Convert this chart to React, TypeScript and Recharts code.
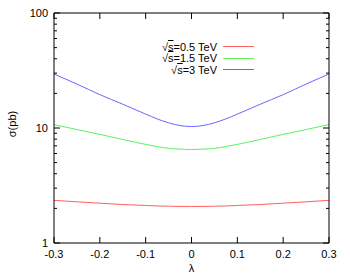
import React from "react";
import { LineChart, Line, XAxis, YAxis } from "recharts";

// lambda 값 (x축)
const lambdas = [-0.3, -0.25, -0.2, -0.15, -0.1, -0.075, -0.05, -0.025, 0, 0.025, 0.05, 0.075, 0.1, 0.15, 0.2, 0.25, 0.3];

// 단면적 sigma(pb), 그림에서 읽은 값
const sigma05 = [2.35, 2.28, 2.22, 2.16, 2.12, 2.1, 2.09, 2.08, 2.08, 2.08, 2.09, 2.1, 2.12, 2.16, 2.22, 2.28, 2.35];
const sigma15 = [10.7, 9.7, 8.8, 7.95, 7.2, 6.9, 6.65, 6.55, 6.5, 6.55, 6.65, 6.9, 7.2, 7.95, 8.8, 9.7, 10.7];
const sigma3 = [29.5, 24.1, 19.5, 16.1, 13.2, 12.0, 11.1, 10.5, 10.3, 10.5, 11.1, 12.0, 13.2, 16.1, 19.5, 24.1, 29.5];

const xTicks = [-0.3, -0.2, -0.1, 0, 0.1, 0.2, 0.3];
const yMajor = [1, 10, 100];
const yTicks = [1, 2, 3, 4, 5, 6, 7, 8, 9, 10, 20, 30, 40, 50, 60, 70, 80, 90, 100];

const seriesNames = ["0.5", "1.5", "3"];
const seriesColors = ["#ff6060", "#60f060", "#6868ff"];

const data = lambdas.map((l, i) => ({
  lambda: l,
  s05: sigma05[i],
  s15: sigma15[i],
  s3: sigma3[i],
}));

const FONT = "'Liberation Sans', Arial, sans-serif";
const GAP = 6;

const fmtX = (v: number) => (Math.abs(v) < 1e-9 ? "0" : String(v));

// 왼쪽 y축 눈금 (안쪽으로)
const LeftTick = (props: any) => {
  const { x, y, payload } = props;
  const ax = x + GAP;
  const major = yMajor.includes(payload.value);
  return (
    <g>
      <line x1={ax} x2={ax + (major ? 6 : 3)} y1={y} y2={y} stroke="#000" />
      {major && (
        <text x={x} y={y} dy={4} textAnchor="end" fontSize={11} fontFamily={FONT} fill="#000">
          {payload.value}
        </text>
      )}
    </g>
  );
};

// 오른쪽 y축 눈금
const RightTick = (props: any) => {
  const { x, y, payload } = props;
  const major = yMajor.includes(payload.value);
  return <line x1={x} x2={x - (major ? 6 : 3)} y1={y} y2={y} stroke="#000" />;
};

// 아래 x축 눈금 + 라벨
const BottomTick = (props: any) => {
  const { x, y, payload } = props;
  return (
    <g>
      <line x1={x} x2={x} y1={y} y2={y - 6} stroke="#000" />
      <text x={x} y={y + 15} textAnchor="middle" fontSize={11} fontFamily={FONT} fill="#000">
        {fmtX(payload.value)}
      </text>
    </g>
  );
};

// 위 x축 눈금
const TopTick = (props: any) => {
  const { x, y } = props;
  return <line x1={x} x2={x} y1={y} y2={y + 6} stroke="#000" />;
};

const App = () => {
  return (
    <div style={{ position: "absolute", left: 0, top: 0, width: 350, height: 279 }}>
      <LineChart width={350} height={279} data={data} margin={{ top: 8, right: 16, bottom: 6, left: 0 }}>
        <XAxis
          xAxisId="bottom"
          dataKey="lambda"
          type="number"
          domain={[-0.3, 0.3]}
          ticks={xTicks}
          height={30}
          tickSize={0}
          tickMargin={0}
          tickLine={false}
          axisLine={{ stroke: "#000" }}
          tick={<BottomTick />}
          interval={0}
          label={{
            content: ({ viewBox }: any) => (
              <text
                x={viewBox.x + viewBox.width / 2}
                y={viewBox.y + 29}
                textAnchor="middle"
                fontSize={11}
                fontFamily={FONT}
                fill="#000"
              >
                λ
              </text>
            ),
          }}
        />
        <XAxis
          xAxisId="top"
          orientation="top"
          dataKey="lambda"
          type="number"
          domain={[-0.3, 0.3]}
          ticks={xTicks}
          height={5}
          tickSize={0}
          tickMargin={0}
          tickLine={false}
          axisLine={{ stroke: "#000" }}
          tick={<TopTick />}
          interval={0}
        />
        <YAxis
          yAxisId="left"
          type="number"
          scale="log"
          domain={[1, 100]}
          allowDataOverflow
          ticks={yTicks}
          width={54}
          tickSize={0}
          tickMargin={GAP}
          tickLine={false}
          axisLine={{ stroke: "#000" }}
          tick={<LeftTick />}
          interval={0}
          label={{
            content: ({ viewBox }: any) => {
              const lx = viewBox.x + 16;
              const ly = viewBox.y + viewBox.height / 2 - 4;
              return (
                <text
                  x={lx}
                  y={ly}
                  transform={`rotate(-90, ${lx}, ${ly})`}
                  textAnchor="middle"
                  fontSize={11}
                  fontFamily={FONT}
                  fill="#000"
                >
                  σ(pb)
                </text>
              );
            },
          }}
        />
        <YAxis
          yAxisId="right"
          orientation="right"
          type="number"
          scale="log"
          domain={[1, 100]}
          allowDataOverflow
          ticks={yTicks}
          width={5}
          tickSize={0}
          tickMargin={0}
          tickLine={false}
          axisLine={{ stroke: "#000" }}
          tick={<RightTick />}
          interval={0}
        />
        <Line xAxisId="bottom" yAxisId="left" type="monotone" dataKey="s05" stroke={seriesColors[0]} strokeWidth={1} dot={false} isAnimationActive={false} />
        <Line xAxisId="bottom" yAxisId="left" type="monotone" dataKey="s15" stroke={seriesColors[1]} strokeWidth={1} dot={false} isAnimationActive={false} />
        <Line xAxisId="bottom" yAxisId="left" type="monotone" dataKey="s3" stroke={seriesColors[2]} strokeWidth={1} dot={false} isAnimationActive={false} />
      </LineChart>
      {/* 범례 */}
      <div style={{ position: "absolute", left: 120, top: 41, fontFamily: FONT, fontSize: 11, lineHeight: "12px" }}>
        {seriesNames.map((name, i) => (
          <div key={name} style={{ display: "flex", alignItems: "center", height: 11.5 }}>
            <span style={{ width: 97, textAlign: "right" }}>
              √<span style={{ textDecoration: "overline" }}>s</span>={name} TeV
            </span>
            <span style={{ display: "inline-block", marginLeft: 6, width: 31, height: 1, background: seriesColors[i] }} />
          </div>
        ))}
      </div>
    </div>
  );
};

export default App;
